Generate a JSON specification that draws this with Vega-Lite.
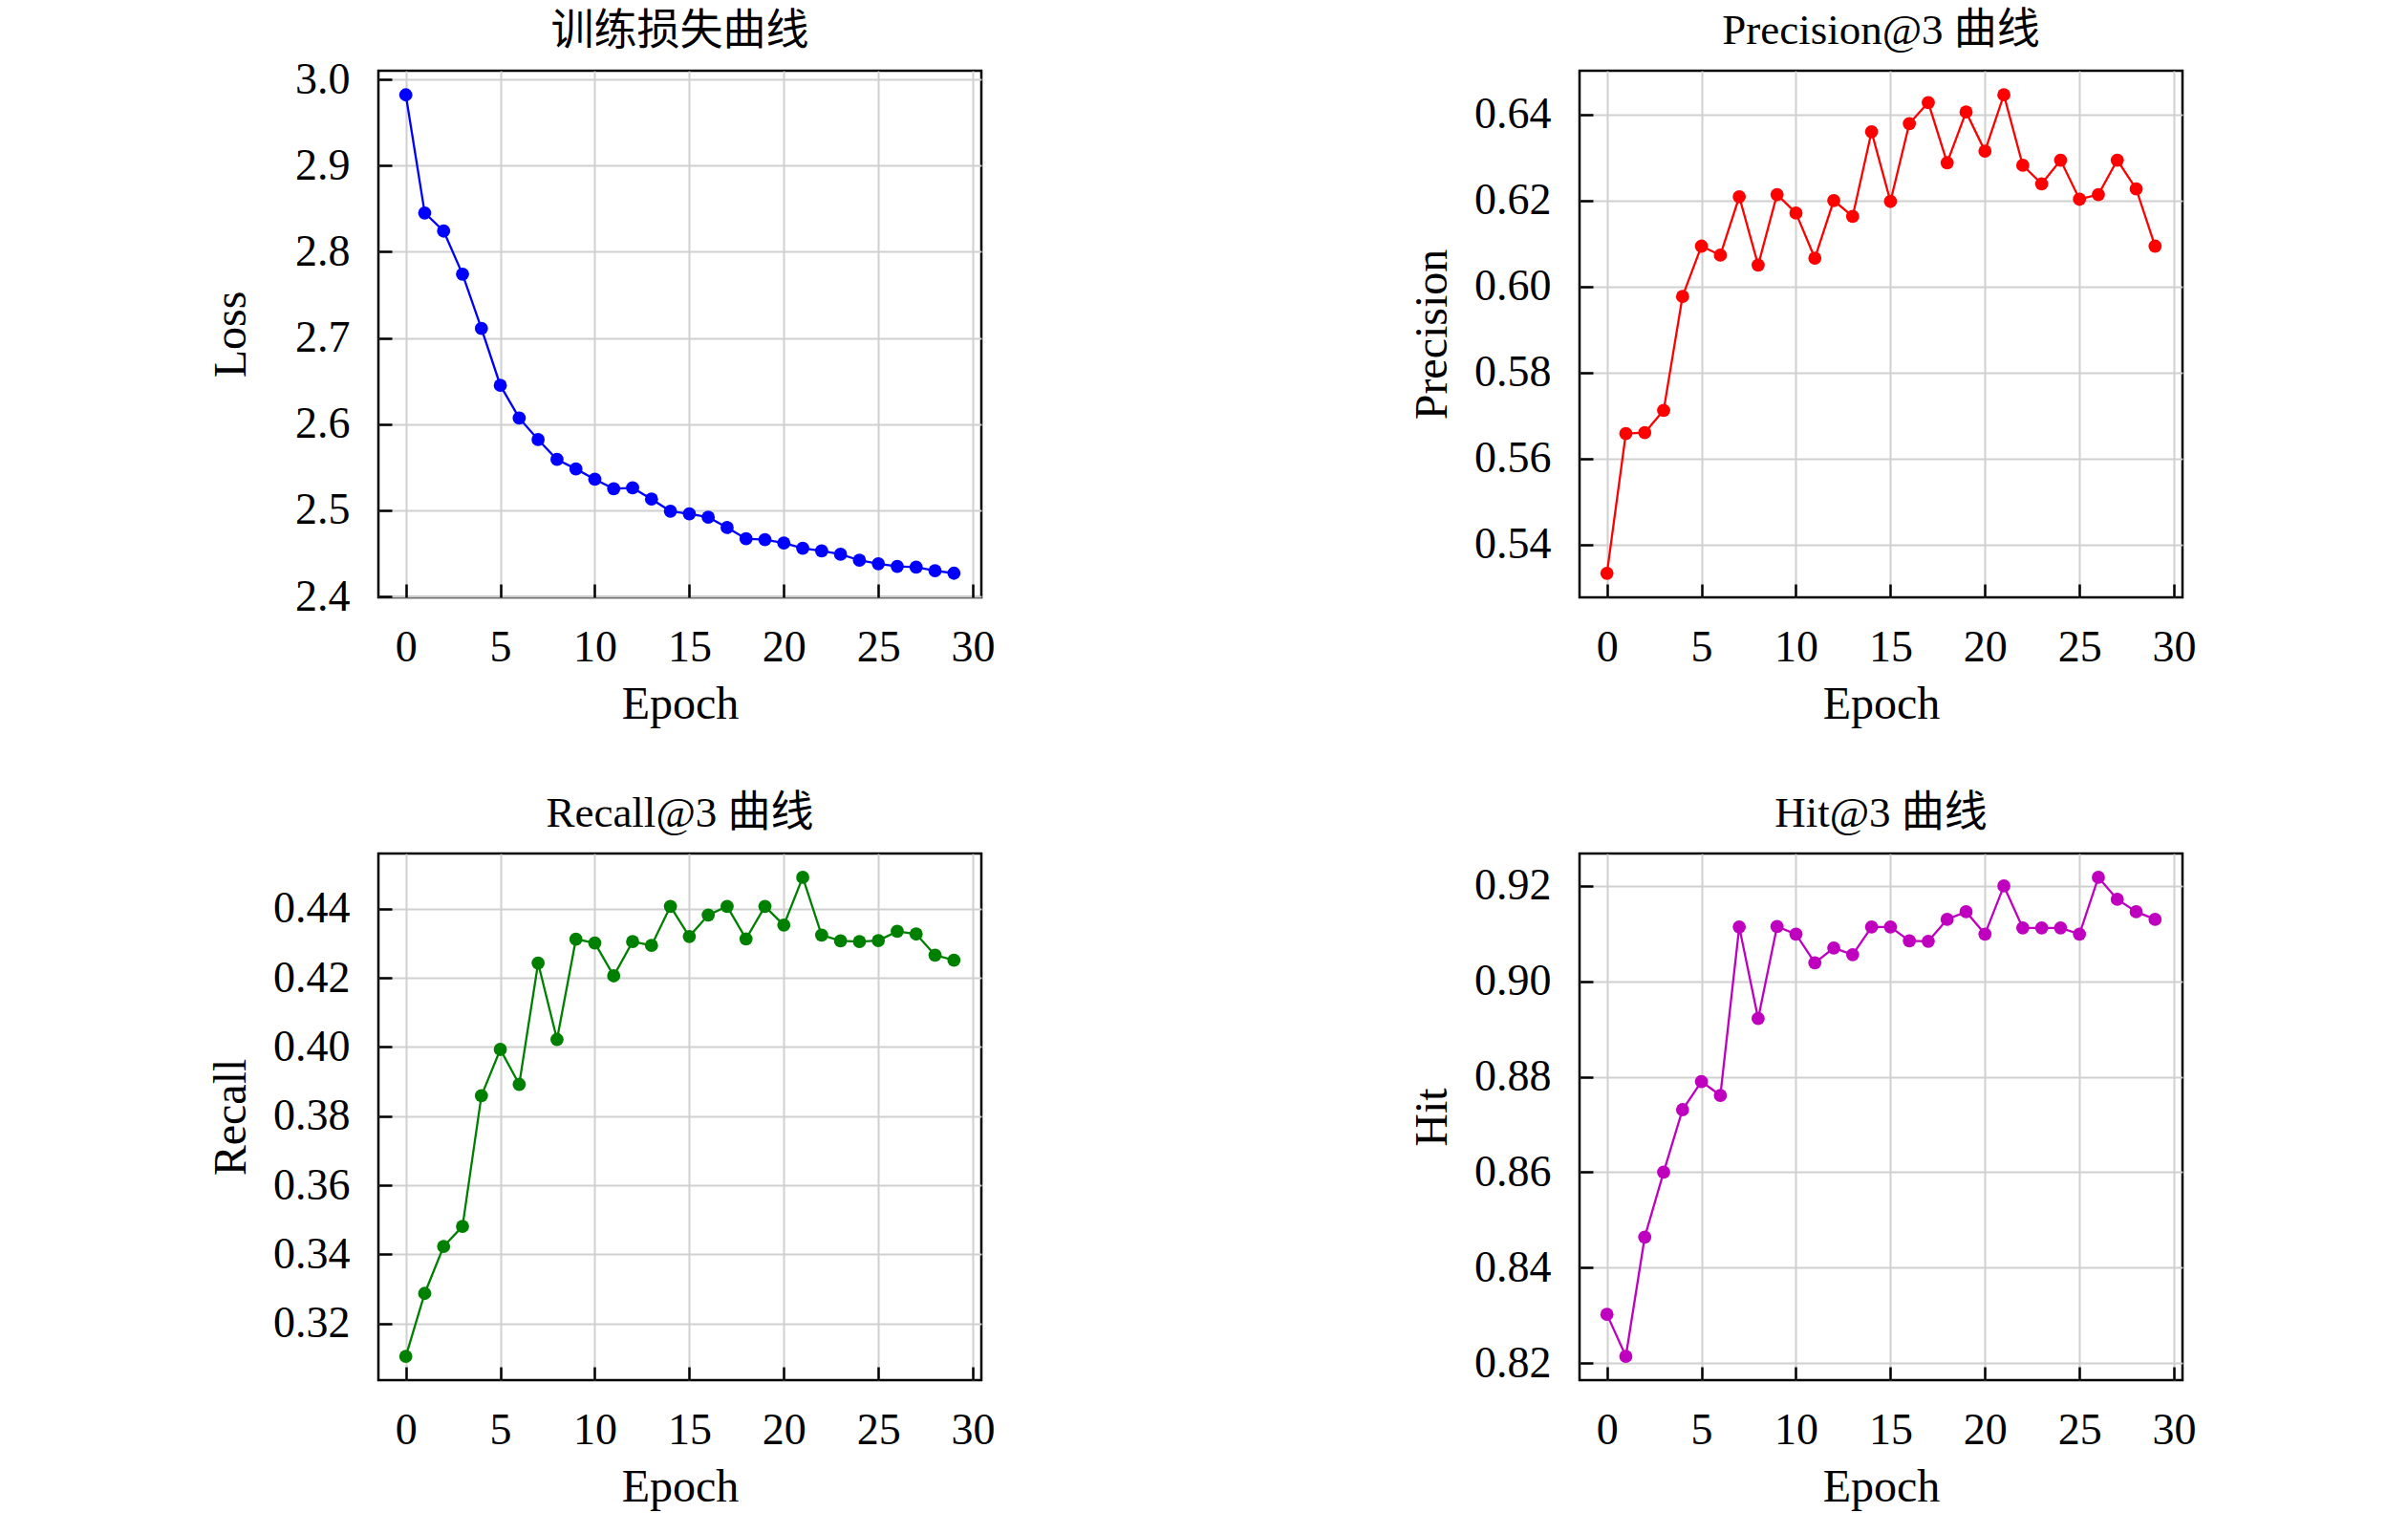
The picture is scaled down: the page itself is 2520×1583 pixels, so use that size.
{
  "$schema": "https://vega.github.io/schema/vega-lite/v6.json",
  "background": "white",
  "padding": {"left": 217, "top": 8, "right": 10, "bottom": 10},
  "config": {
    "font": "Liberation Serif, Noto Sans CJK SC",
    "view": {"stroke": "black", "strokeWidth": 2.5},
    "title": {
      "font": "Liberation Serif, Noto Sans CJK SC",
      "fontSize": 45,
      "fontWeight": "normal",
      "color": "black",
      "baseline": "alphabetic",
      "frame": "group",
      "offset": 19
    },
    "axis": {
      "labelFont": "Liberation Serif",
      "titleFont": "Liberation Serif",
      "domain": false,
      "grid": true,
      "gridColor": "#d0d0d0",
      "gridWidth": 2,
      "ticks": true,
      "tickColor": "black",
      "tickWidth": 2.5,
      "tickSize": -14,
      "labelFontSize": 46,
      "labelColor": "black",
      "labelPadding": 44,
      "labelFlush": false,
      "labelOverlap": false,
      "labelBound": false,
      "titleFontSize": 48,
      "titleFontWeight": "normal",
      "titleColor": "black"
    },
    "axisX": {"titlePadding": 13},
    "axisY": {"titlePadding": 19}
  },
  "datasets": {
    "metrics": [
      {"epoch": 0, "loss": 2.982, "precision": 0.5333, "recall": 0.3105, "hit": 0.8302},
      {"epoch": 1, "loss": 2.845, "precision": 0.5658, "recall": 0.3287, "hit": 0.8214},
      {"epoch": 2, "loss": 2.824, "precision": 0.5660, "recall": 0.3423, "hit": 0.8464},
      {"epoch": 3, "loss": 2.774, "precision": 0.5712, "recall": 0.3481, "hit": 0.8600},
      {"epoch": 4, "loss": 2.711, "precision": 0.5977, "recall": 0.3859, "hit": 0.8731},
      {"epoch": 5, "loss": 2.645, "precision": 0.6094, "recall": 0.3993, "hit": 0.8790},
      {"epoch": 6, "loss": 2.607, "precision": 0.6073, "recall": 0.3892, "hit": 0.8761},
      {"epoch": 7, "loss": 2.582, "precision": 0.6209, "recall": 0.4243, "hit": 0.9114},
      {"epoch": 8, "loss": 2.559, "precision": 0.6050, "recall": 0.4022, "hit": 0.8922},
      {"epoch": 9, "loss": 2.548, "precision": 0.6214, "recall": 0.4312, "hit": 0.9115},
      {"epoch": 10, "loss": 2.536, "precision": 0.6171, "recall": 0.4301, "hit": 0.9099},
      {"epoch": 11, "loss": 2.525, "precision": 0.6066, "recall": 0.4206, "hit": 0.9039},
      {"epoch": 12, "loss": 2.526, "precision": 0.6200, "recall": 0.4305, "hit": 0.9070},
      {"epoch": 13, "loss": 2.513, "precision": 0.6163, "recall": 0.4294, "hit": 0.9056},
      {"epoch": 14, "loss": 2.499, "precision": 0.6360, "recall": 0.4407, "hit": 0.9114},
      {"epoch": 15, "loss": 2.496, "precision": 0.6198, "recall": 0.4320, "hit": 0.9114},
      {"epoch": 16, "loss": 2.492, "precision": 0.6379, "recall": 0.4382, "hit": 0.9085},
      {"epoch": 17, "loss": 2.480, "precision": 0.6428, "recall": 0.4407, "hit": 0.9084},
      {"epoch": 18, "loss": 2.467, "precision": 0.6288, "recall": 0.4313, "hit": 0.9130},
      {"epoch": 19, "loss": 2.466, "precision": 0.6406, "recall": 0.4407, "hit": 0.9146},
      {"epoch": 20, "loss": 2.462, "precision": 0.6315, "recall": 0.4353, "hit": 0.9099},
      {"epoch": 21, "loss": 2.456, "precision": 0.6446, "recall": 0.4491, "hit": 0.9200},
      {"epoch": 22, "loss": 2.453, "precision": 0.6282, "recall": 0.4324, "hit": 0.9112},
      {"epoch": 23, "loss": 2.449, "precision": 0.6239, "recall": 0.4307, "hit": 0.9112},
      {"epoch": 24, "loss": 2.442, "precision": 0.6294, "recall": 0.4305, "hit": 0.9112},
      {"epoch": 25, "loss": 2.438, "precision": 0.6203, "recall": 0.4308, "hit": 0.9099},
      {"epoch": 26, "loss": 2.435, "precision": 0.6214, "recall": 0.4335, "hit": 0.9218},
      {"epoch": 27, "loss": 2.434, "precision": 0.6294, "recall": 0.4327, "hit": 0.9172},
      {"epoch": 28, "loss": 2.430, "precision": 0.6227, "recall": 0.4266, "hit": 0.9146},
      {"epoch": 29, "loss": 2.427, "precision": 0.6094, "recall": 0.4251, "hit": 0.9130}
    ]
  },
  "columns": 2,
  "spacing": {"row": 268, "column": 626},
  "bounds": "flush",
  "concat": [
    {
      "title": {"text": "训练损失曲线", "dy": 15},
      "width": 631,
      "height": 551,
      "data": {"name": "metrics"},
      "encoding": {
        "x": {
          "field": "epoch",
          "type": "quantitative",
          "scale": {"domain": [-1.45, 30.45], "nice": false, "zero": false},
          "axis": {"values": [0, 5, 10, 15, 20, 25, 30], "title": "Epoch"}
        },
        "y": {
          "field": "loss",
          "type": "quantitative",
          "scale": {"domain": [2.399, 3.01], "nice": false, "zero": false},
          "axis": {"values": [2.4, 2.5, 2.6, 2.7, 2.8, 2.9, 3.0], "format": ".1f", "title": "Loss", "titlePadding": 42}
        }
      },
      "layer": [
        {"mark": {"type": "line", "color": "#0000ff", "strokeWidth": 2.3}},
        {"mark": {"type": "circle", "color": "#0000ff", "size": 190, "opacity": 1}}
      ]
    },
    {
      "title": "Precision@3 曲线",
      "width": 631,
      "height": 551,
      "data": {"name": "metrics"},
      "encoding": {
        "x": {
          "field": "epoch",
          "type": "quantitative",
          "scale": {"domain": [-1.45, 30.45], "nice": false, "zero": false},
          "axis": {"values": [0, 5, 10, 15, 20, 25, 30], "title": "Epoch"}
        },
        "y": {
          "field": "precision",
          "type": "quantitative",
          "scale": {"domain": [0.5277, 0.6502], "nice": false, "zero": false},
          "axis": {"values": [0.54, 0.56, 0.58, 0.6, 0.62, 0.64], "format": ".2f", "title": "Precision"}
        }
      },
      "layer": [
        {"mark": {"type": "line", "color": "#ff0000", "strokeWidth": 2.3}},
        {"mark": {"type": "circle", "color": "#ff0000", "size": 190, "opacity": 1}}
      ]
    },
    {
      "title": "Recall@3 曲线",
      "width": 631,
      "height": 551,
      "data": {"name": "metrics"},
      "encoding": {
        "x": {
          "field": "epoch",
          "type": "quantitative",
          "scale": {"domain": [-1.45, 30.45], "nice": false, "zero": false},
          "axis": {"values": [0, 5, 10, 15, 20, 25, 30], "title": "Epoch"}
        },
        "y": {
          "field": "recall",
          "type": "quantitative",
          "scale": {"domain": [0.3036, 0.456], "nice": false, "zero": false},
          "axis": {"values": [0.32, 0.34, 0.36, 0.38, 0.4, 0.42, 0.44], "format": ".2f", "title": "Recall"}
        }
      },
      "layer": [
        {"mark": {"type": "line", "color": "#008000", "strokeWidth": 2.3}},
        {"mark": {"type": "circle", "color": "#008000", "size": 190, "opacity": 1}}
      ]
    },
    {
      "title": "Hit@3 曲线",
      "width": 631,
      "height": 551,
      "data": {"name": "metrics"},
      "encoding": {
        "x": {
          "field": "epoch",
          "type": "quantitative",
          "scale": {"domain": [-1.45, 30.45], "nice": false, "zero": false},
          "axis": {"values": [0, 5, 10, 15, 20, 25, 30], "title": "Epoch"}
        },
        "y": {
          "field": "hit",
          "type": "quantitative",
          "scale": {"domain": [0.8164, 0.9268], "nice": false, "zero": false},
          "axis": {"values": [0.82, 0.84, 0.86, 0.88, 0.9, 0.92], "format": ".2f", "title": "Hit"}
        }
      },
      "layer": [
        {"mark": {"type": "line", "color": "#bf00bf", "strokeWidth": 2.3}},
        {"mark": {"type": "circle", "color": "#bf00bf", "size": 190, "opacity": 1}}
      ]
    }
  ]
}
